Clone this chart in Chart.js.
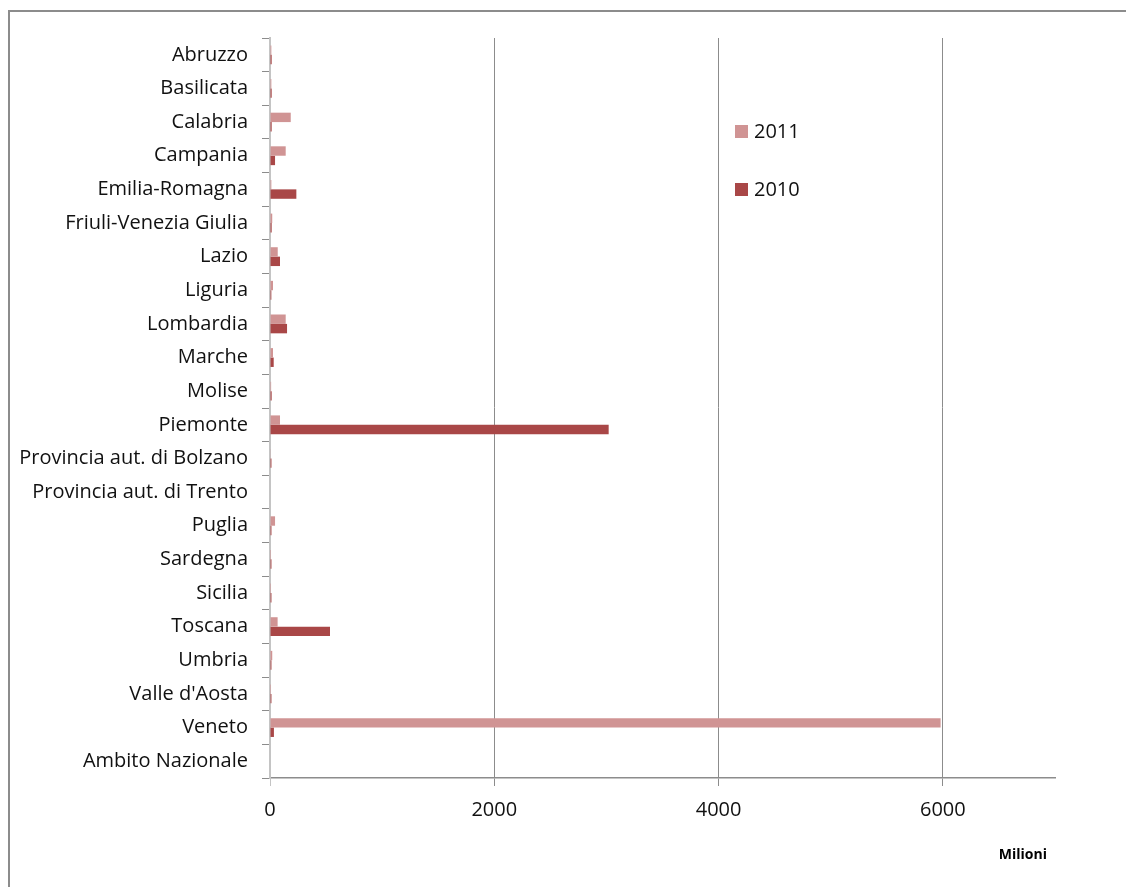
<!DOCTYPE html>
<html>
<head>
<meta charset="utf-8">
<script src="https://cdn.jsdelivr.net/npm/chart.js@4.4.1/dist/chart.umd.min.js"></script>
<style>
  body { margin: 0; background: #fff; }
  #wrap { position: relative; width: 1126px; height: 887px; overflow: hidden; }
  #frame { position: absolute; left: 8px; top: 10px; width: 1140px; height: 900px; border: 2px solid #8c8c8c; box-sizing: border-box; }
  canvas { position: absolute; left: 0; top: 0; }
</style>
</head>
<body>
<div id="wrap">
  <div id="frame"></div>
  <canvas id="chart" width="1126" height="887"></canvas>
</div>
<script>
const regions = [
  "Abruzzo", "Basilicata", "Calabria", "Campania", "Emilia-Romagna",
  "Friuli-Venezia Giulia", "Lazio", "Liguria", "Lombardia", "Marche",
  "Molise", "Piemonte", "Provincia aut. di Bolzano", "Provincia aut. di Trento",
  "Puglia", "Sardegna", "Sicilia", "Toscana", "Umbria", "Valle d'Aosta",
  "Veneto", "Ambito Nazionale"
];
// milioni di euro
const values2011 = [12, 12, 185, 140, 12, 20, 69, 27, 140, 27, 10, 89, 3, 0, 45, 9, 9, 68, 20, 9, 5980, 0];
const values2010 = [15, 15, 15, 45, 235, 15, 89, 12, 152, 33, 15, 3020, 13, 0, 13, 13, 13, 535, 13, 13, 35, 0];
const xTicks = [0, 2000, 4000, 6000];
const unitLabel = "Milioni";

const FONT = "'Open Sans', sans-serif";

// legenda e unità disegnate a mano nella posizione dell'originale
const sideLegend = {
  id: "sideLegend",
  afterDraw(chart) {
    const ctx = chart.ctx;
    ctx.save();
    ctx.font = "20px " + FONT;
    ctx.textBaseline = "middle";
    chart.data.datasets.forEach((ds, i) => {
      const y = 132 + i * 58;
      ctx.fillStyle = ds.backgroundColor;
      ctx.fillRect(735, y - 7, 13, 13);
      ctx.fillStyle = "#111";
      ctx.fillText(ds.label, 754, y);
    });
    ctx.font = "bold 14px " + FONT;
    ctx.textAlign = "right";
    ctx.fillStyle = "#000";
    ctx.fillText(unitLabel, 1047, 855);
    ctx.restore();
  }
};

new Chart(document.getElementById("chart"), {
  type: "bar",
  data: {
    labels: regions,
    datasets: [
      { label: "2011", data: values2011, backgroundColor: "#d09494" },
      { label: "2010", data: values2010, backgroundColor: "#a94747" }
    ]
  },
  options: {
    indexAxis: "y",
    responsive: false,
    animation: false,
    layout: { padding: { top: 38, right: 71, left: 0, bottom: 0 } },
    datasets: { bar: { categoryPercentage: 0.56, barPercentage: 1.0 } },
    plugins: { legend: { display: false }, tooltip: { enabled: false } },
    scales: {
      x: {
        min: 0,
        max: 7000,
        afterBuildTicks: axis => { axis.ticks = xTicks.map(v => ({ value: v })); },
        afterFit: axis => { axis.height = 109; },
        grid: {
          color: c => c.tick && c.tick.value === 0 ? "#c4c4c4" : "#8c8c8c",
          lineWidth: 1,
          tickLength: 8
        },
        border: { color: "#8c8c8c", width: 1.5 },
        ticks: {
          color: "#111",
          font: { family: FONT, size: 20 },
          padding: 12,
          callback: v => String(v)
        }
      },
      y: {
        afterFit: axis => { axis.width = 270; },
        grid: { drawOnChartArea: false, offset: true, color: "#8c8c8c", tickLength: 8 },
        border: { color: "#c4c4c4", width: 2 },
        ticks: { color: "#111", font: { family: FONT, size: 20 }, padding: 14 }
      }
    }
  },
  plugins: [sideLegend]
});
</script>
</body>
</html>
